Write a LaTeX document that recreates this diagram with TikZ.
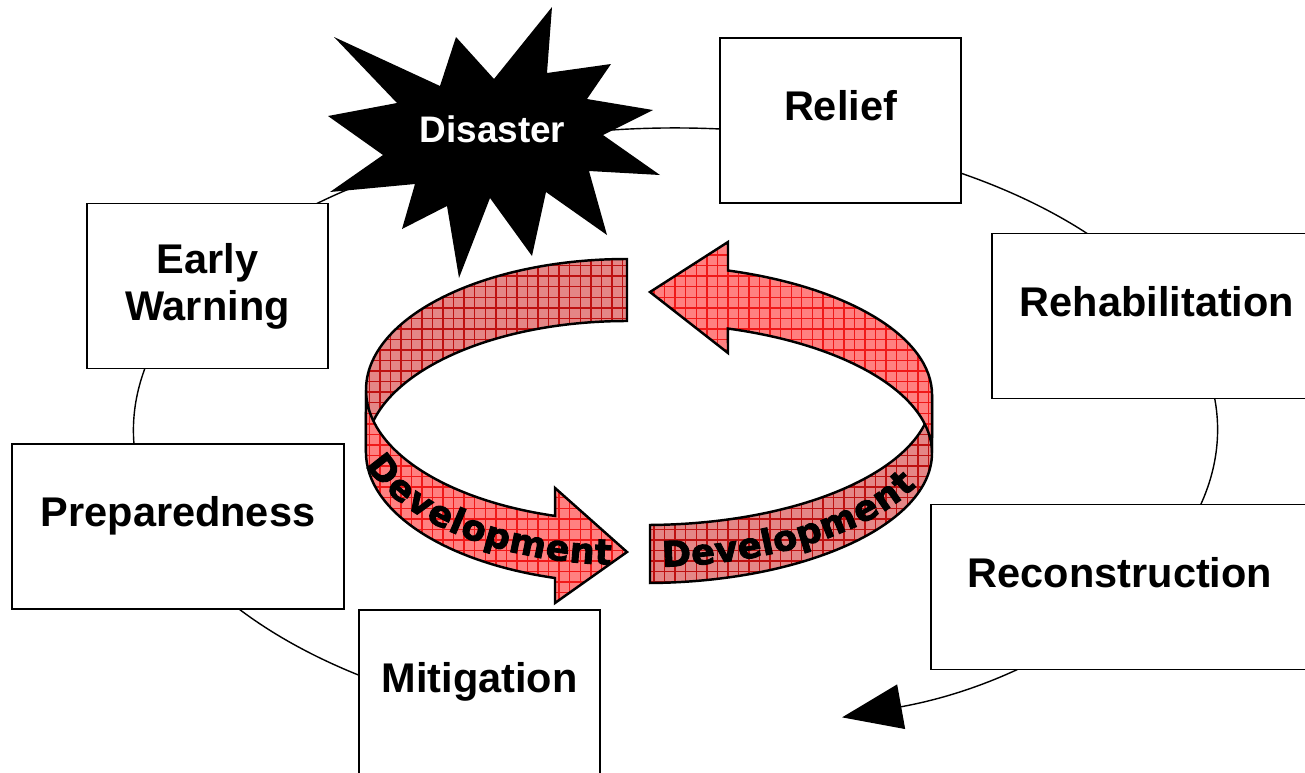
\documentclass[tikz,border=0pt]{standalone}
\usepackage{fontspec}
\setmainfont{Liberation Sans}
\newfontfamily\devfont{DejaVu Sans}[BoldFeatures={FakeBold=2.5}]
\usepackage{xcolor}
\usetikzlibrary{arrows.meta, patterns, decorations.text}
\definecolor{RibbonLight}{RGB}{255,128,128}
\definecolor{RibbonDark}{RGB}{228,134,134}
\definecolor{GridLight}{RGB}{240,24,24}
\definecolor{GridDark}{RGB}{190,16,16}
\newcommand{\devtext}{\devfont\bfseries\fontsize{10}{12}\selectfont}

\begin{document}
\begin{tikzpicture}[
    x=0.01cm,
    y=-0.01cm,
    stage/.style={
        draw=black,
        line width=0.45pt,
        fill=white,
        inner sep=0pt,
        minimum height=1.65cm,
        font=\bfseries\fontsize{11.8}{13.4}\selectfont,
        text height=0.3cm,
        text depth=0.3cm
    },
    loopline/.style={
        draw=black,
        line width=0.4pt
    },
    ribbonlight/.style={
        preaction={fill=RibbonLight},
        pattern=grid,
        pattern color=GridLight,
        draw=black,
        line width=0.7pt
    },
    ribbondark/.style={
        preaction={fill=RibbonDark},
        pattern=grid,
        pattern color=GridDark,
        draw=black,
        line width=0.7pt
    },
    devlabel/.style={
        decorate,
        decoration={text along path, text align=center, raise=-3.7pt,
            text={|\devtext|Development}}
    }
]
\useasboundingbox (0,0) rectangle (1305,772);

% Cycle
\coordinate (loopstart) at (581.4,727.4);
\draw[loopline, -{Triangle[length=0.6cm, width=0.45cm]}] (loopstart)
    arc[start angle=100, end angle=432.1, x radius=542, y radius=302];

% Stages
\node[stage, minimum width=2.41cm] (relief) at (840.5,120.5) {Relief};
\node[stage, minimum width=3.30cm] (rehab) at (1157,316) {Rehabilitation};
\node[stage, minimum width=3.78cm] (recon) at (1120,587) {Reconstruction};
\node[stage, minimum width=2.41cm] (mitig) at (479.5,692.5) {Mitigation};
\node[stage, minimum width=3.32cm] (prep) at (178,526.5) {Preparedness};
\node[stage, minimum width=2.41cm, align=center, text height=, text depth=] (warn) at (207.5,286) {Early\\Warning};

% Disaster burst
\fill[black] (334,37) -- (440,86) -- (456,37) -- (494,79) -- (552,7) -- (547,73)
    -- (611,64) -- (587,99) -- (653,110) -- (603,135) -- (660,175) -- (589,171)
    -- (607,235) -- (546,192) -- (532,256) -- (490,198) -- (459,278) -- (447,206)
    -- (402,229) -- (415,184) -- (330,192) -- (383,155) -- (328,116) -- (397,103) -- cycle;
\node[font=\bfseries\fontsize{10.5}{12}\selectfont, text=white] (disaster) at (492.5,129) {Disaster};

% Left ribbon
\path[ribbondark] (627,259) arc[start angle=270, end angle=180, x radius=261, y radius=131]
    -- (366,452) arc[start angle=180, end angle=270, x radius=261, y radius=131] -- cycle;
\path[ribbonlight] (366,390) arc[start angle=180, end angle=106, x radius=261, y radius=131]
    -- (555,488) -- (627,552) -- (555,603) -- (555,578)
    arc[start angle=106, end angle=180, x radius=261, y radius=131] -- cycle;
\path[devlabel] (377.4,459.3) arc[start angle=163, end angle=94, x radius=261, y radius=131];

% Right ribbon
\path[ribbondark] (932,395) arc[start angle=0, end angle=89, x radius=287, y radius=130]
    -- (650,583) arc[start angle=89, end angle=0, x radius=287, y radius=130] -- cycle;
\path[ribbonlight] (728,270.5) arc[start angle=286.8, end angle=360, x radius=287, y radius=130]
    -- (932,453) arc[start angle=360, end angle=286.8, x radius=287, y radius=130]
    -- (728,353) -- (650,292) -- (728,242) -- cycle;
\path[devlabel] (660,553.8) arc[start angle=87, end angle=23, x radius=287, y radius=130];

\end{tikzpicture}
\end{document}
